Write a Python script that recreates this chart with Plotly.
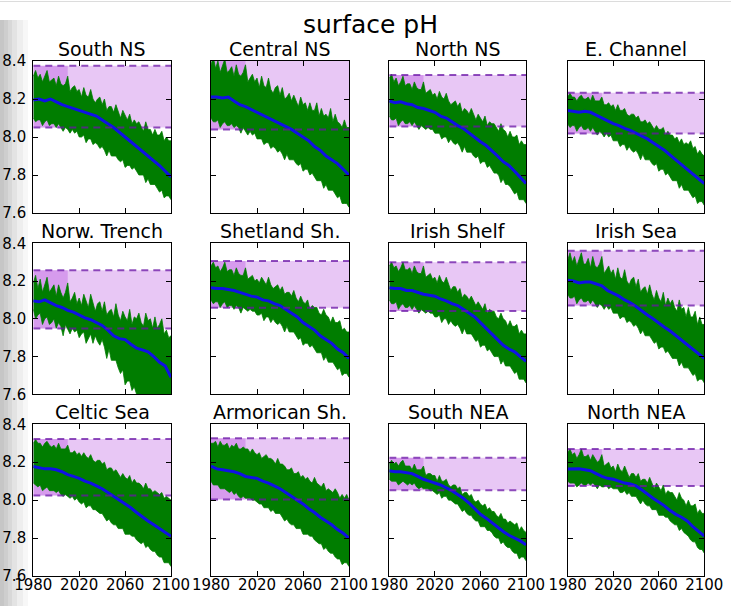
import plotly.graph_objects as go

# ---------------- data ----------------
regions = ["South NS", "Central NS", "North NS", "E. Channel",
           "Norw. Trench", "Shetland Sh.", "Irish Shelf", "Irish Sea",
           "Celtic Sea", "Armorican Sh.", "South NEA", "North NEA"]

# present-day variability range (dashed lines)
band_lo = [8.05, 8.04, 8.055, 8.019, 7.948, 8.059, 8.041, 8.07, 8.024, 8.004, 8.052, 8.075]
band_hi = [8.375, 8.46, 8.326, 8.233, 8.257, 8.306, 8.30, 8.36, 8.323, 8.326, 8.224, 8.27]
baseline_period = [1980, 2010]
x_range = [1980, 2100]

years_env = list(range(1980, 2101, 2))
years_mean = list(range(1980, 2101, 5))

south_ns_hi = [8.32, 8.35, 8.31, 8.33, 8.29, 8.32, 8.35, 8.29, 8.30, 8.31, 8.27, 8.32, 8.28, 8.27, 8.28,
               8.32, 8.24, 8.26, 8.27, 8.24, 8.25, 8.21, 8.26, 8.22, 8.21, 8.25, 8.20, 8.18, 8.20, 8.21,
               8.17, 8.20, 8.14, 8.16, 8.16, 8.13, 8.17, 8.13, 8.10, 8.14, 8.11, 8.09, 8.12, 8.07, 8.09,
               8.07, 8.08, 8.05, 8.03, 8.08, 8.04, 8.04, 8.01, 8.04, 8.01, 8.01, 8.03, 7.98, 8.00, 7.98, 7.98]
south_ns_lo = [8.10, 8.08, 8.09, 8.09, 8.06, 8.08, 8.09, 8.06, 8.07, 8.07, 8.05, 8.07, 8.05, 8.03, 8.05,
               8.04, 8.02, 8.04, 8.02, 8.03, 8.00, 8.00, 8.01, 7.97, 7.99, 7.99, 7.96, 7.97, 7.96, 7.94,
               7.95, 7.93, 7.90, 7.93, 7.90, 7.90, 7.90, 7.88, 7.87, 7.88, 7.84, 7.85, 7.85, 7.83, 7.84,
               7.82, 7.80, 7.80, 7.80, 7.76, 7.78, 7.75, 7.75, 7.75, 7.73, 7.71, 7.72, 7.68, 7.69, 7.69, 7.67]
south_ns_mean = [8.195, 8.20, 8.19, 8.20, 8.185, 8.17, 8.16, 8.15, 8.14, 8.13, 8.12, 8.11, 8.09,
                 8.07, 8.05, 8.025, 8.00, 7.975, 7.95, 7.93, 7.90, 7.88, 7.85, 7.82, 7.79]

central_ns_hi = [8.38, 8.42, 8.36, 8.40, 8.34, 8.38, 8.41, 8.34, 8.35, 8.37, 8.32, 8.38, 8.33, 8.32, 8.34,
                 8.38, 8.29, 8.31, 8.33, 8.29, 8.31, 8.26, 8.32, 8.27, 8.26, 8.31, 8.25, 8.23, 8.26, 8.27,
                 8.22, 8.26, 8.20, 8.21, 8.23, 8.19, 8.22, 8.19, 8.16, 8.21, 8.17, 8.18, 8.14, 8.18, 8.14,
                 8.14, 8.18, 8.11, 8.15, 8.11, 8.12, 8.10, 8.15, 8.08, 8.12, 8.08, 8.07, 8.05, 8.09, 8.05, 8.05]
central_ns_lo = [8.10, 8.08, 8.08, 8.09, 8.05, 8.07, 8.08, 8.06, 8.06, 8.07, 8.05, 8.06, 8.05, 8.02, 8.05,
                 8.03, 8.01, 8.03, 8.01, 8.02, 7.99, 7.99, 7.99, 7.96, 7.97, 7.97, 7.94, 7.95, 7.94, 7.92,
                 7.93, 7.91, 7.88, 7.91, 7.88, 7.88, 7.88, 7.86, 7.85, 7.86, 7.82, 7.83, 7.83, 7.80, 7.81,
                 7.79, 7.77, 7.77, 7.77, 7.73, 7.75, 7.72, 7.72, 7.72, 7.70, 7.68, 7.69, 7.65, 7.65, 7.65, 7.63]
central_ns_mean = [8.21, 8.21, 8.205, 8.21, 8.19, 8.17, 8.16, 8.145, 8.13, 8.115, 8.10, 8.085, 8.07,
                   8.055, 8.04, 8.02, 8.00, 7.98, 7.95, 7.93, 7.90, 7.88, 7.86, 7.83, 7.80]

north_ns_hi = [8.31, 8.33, 8.29, 8.31, 8.27, 8.29, 8.32, 8.27, 8.28, 8.28, 8.25, 8.29, 8.26, 8.25, 8.25,
               8.29, 8.23, 8.24, 8.25, 8.22, 8.23, 8.20, 8.24, 8.21, 8.20, 8.23, 8.19, 8.17, 8.18, 8.19,
               8.16, 8.18, 8.13, 8.15, 8.14, 8.12, 8.15, 8.12, 8.09, 8.12, 8.10, 8.08, 8.11, 8.06, 8.08,
               8.07, 8.07, 8.05, 8.03, 8.07, 8.04, 8.03, 8.00, 8.03, 8.00, 8.00, 8.01, 7.96, 7.98, 7.96, 7.96]
north_ns_lo = [8.11, 8.09, 8.09, 8.10, 8.06, 8.08, 8.09, 8.07, 8.07, 8.08, 8.06, 8.08, 8.06, 8.04, 8.06,
               8.05, 8.04, 8.05, 8.04, 8.04, 8.02, 8.02, 8.02, 7.99, 8.00, 8.00, 7.97, 7.99, 7.97, 7.96,
               7.97, 7.95, 7.92, 7.95, 7.92, 7.92, 7.92, 7.90, 7.89, 7.90, 7.86, 7.87, 7.87, 7.84, 7.85,
               7.83, 7.81, 7.81, 7.80, 7.76, 7.78, 7.75, 7.75, 7.74, 7.72, 7.70, 7.71, 7.67, 7.67, 7.67, 7.65]
north_ns_mean = [8.19, 8.18, 8.185, 8.175, 8.17, 8.155, 8.15, 8.14, 8.13, 8.11, 8.10, 8.08, 8.06,
                 8.045, 8.02, 8.00, 7.975, 7.955, 7.93, 7.90, 7.87, 7.85, 7.82, 7.79, 7.755]

e_channel_hi = [8.21, 8.23, 8.21, 8.21, 8.19, 8.21, 8.22, 8.20, 8.20, 8.21, 8.19, 8.22, 8.19, 8.19, 8.19,
                8.21, 8.17, 8.17, 8.18, 8.16, 8.17, 8.14, 8.17, 8.14, 8.14, 8.15, 8.12, 8.11, 8.12, 8.12,
                8.10, 8.11, 8.08, 8.08, 8.09, 8.07, 8.08, 8.06, 8.04, 8.06, 8.04, 8.04, 8.05, 8.01, 8.03,
                8.01, 8.01, 7.99, 8.00, 7.97, 7.99, 7.96, 7.97, 7.96, 7.98, 7.94, 7.95, 7.91, 7.93, 7.91, 7.90]
e_channel_lo = [8.07, 8.05, 8.06, 8.06, 8.03, 8.05, 8.06, 8.04, 8.04, 8.05, 8.03, 8.05, 8.03, 8.01, 8.03,
                8.02, 8.00, 8.02, 8.00, 8.01, 7.98, 7.98, 7.98, 7.95, 7.96, 7.96, 7.93, 7.95, 7.93, 7.92,
                7.93, 7.91, 7.88, 7.91, 7.88, 7.88, 7.88, 7.86, 7.85, 7.86, 7.82, 7.83, 7.83, 7.80, 7.81,
                7.79, 7.77, 7.77, 7.77, 7.73, 7.75, 7.72, 7.72, 7.72, 7.70, 7.68, 7.69, 7.65, 7.66, 7.66, 7.64]
e_channel_mean = [8.14, 8.135, 8.13, 8.135, 8.13, 8.115, 8.10, 8.085, 8.07, 8.06, 8.045, 8.035, 8.02,
                  8.005, 7.99, 7.97, 7.95, 7.93, 7.905, 7.88, 7.86, 7.835, 7.81, 7.785, 7.755]

norw_trench_hi = [8.19, 8.23, 8.16, 8.21, 8.14, 8.18, 8.22, 8.14, 8.16, 8.18, 8.12, 8.18, 8.14, 8.11, 8.14,
                  8.19, 8.09, 8.11, 8.14, 8.08, 8.11, 8.07, 8.13, 8.09, 8.06, 8.13, 8.08, 8.04, 8.08, 8.09,
                  8.04, 8.09, 8.02, 8.04, 8.05, 8.01, 8.08, 8.02, 7.99, 8.04, 8.01, 7.99, 8.05, 7.97, 8.01,
                  8.00, 8.03, 7.98, 7.96, 8.03, 7.99, 8.00, 7.95, 8.01, 7.95, 7.97, 8.00, 7.92, 7.94, 7.90, 7.91]
norw_trench_lo = [8.05, 8.00, 8.02, 8.03, 7.97, 8.00, 8.01, 7.97, 7.98, 8.00, 7.95, 7.98, 7.96, 7.91, 7.97,
                  7.94, 7.92, 7.95, 7.93, 7.94, 7.90, 7.92, 7.93, 7.87, 7.90, 7.92, 7.87, 7.91, 7.88, 7.86,
                  7.89, 7.85, 7.79, 7.84, 7.78, 7.78, 7.78, 7.74, 7.71, 7.73, 7.65, 7.67, 7.67, 7.62, 7.64,
                  7.60, 7.57, 7.58, 7.59, 7.52, 7.57, 7.53, 7.54, 7.52, 7.53, 7.51, 7.55, 7.48, 7.52, 7.53, 7.51]
norw_trench_mean = [8.095, 8.09, 8.10, 8.085, 8.07, 8.06, 8.045, 8.035, 8.02, 8.005, 7.995, 7.98, 7.965,
                    7.94, 7.91, 7.895, 7.89, 7.865, 7.845, 7.835, 7.825, 7.80, 7.77, 7.75, 7.69]

shetland_hi = [8.28, 8.30, 8.27, 8.28, 8.25, 8.27, 8.30, 8.25, 8.26, 8.26, 8.23, 8.27, 8.24, 8.23, 8.23,
               8.27, 8.21, 8.22, 8.23, 8.20, 8.21, 8.19, 8.22, 8.20, 8.18, 8.22, 8.18, 8.16, 8.17, 8.18,
               8.15, 8.17, 8.13, 8.14, 8.14, 8.12, 8.15, 8.11, 8.09, 8.12, 8.09, 8.08, 8.10, 8.05, 8.07,
               8.06, 8.06, 8.03, 8.02, 8.05, 8.02, 8.01, 7.98, 8.01, 7.98, 7.98, 7.99, 7.94, 7.95, 7.93, 7.93]
shetland_lo = [8.10, 8.08, 8.09, 8.09, 8.06, 8.08, 8.09, 8.06, 8.07, 8.07, 8.05, 8.07, 8.06, 8.03, 8.06,
               8.05, 8.04, 8.05, 8.04, 8.04, 8.02, 8.02, 8.03, 7.99, 8.01, 8.01, 7.98, 8.00, 7.98, 7.97,
               7.98, 7.96, 7.93, 7.96, 7.93, 7.93, 7.93, 7.91, 7.89, 7.90, 7.86, 7.87, 7.87, 7.85, 7.86,
               7.84, 7.82, 7.82, 7.82, 7.78, 7.80, 7.77, 7.77, 7.77, 7.75, 7.73, 7.74, 7.70, 7.71, 7.71, 7.69]
shetland_mean = [8.165, 8.16, 8.16, 8.155, 8.15, 8.14, 8.13, 8.12, 8.115, 8.10, 8.095, 8.08, 8.07,
                 8.05, 8.03, 8.01, 7.98, 7.96, 7.94, 7.91, 7.89, 7.87, 7.84, 7.82, 7.79]

irish_shelf_hi = [8.28, 8.30, 8.27, 8.28, 8.25, 8.27, 8.30, 8.26, 8.26, 8.27, 8.24, 8.28, 8.25, 8.24, 8.24,
                  8.28, 8.22, 8.23, 8.24, 8.21, 8.22, 8.19, 8.23, 8.20, 8.19, 8.22, 8.18, 8.15, 8.17, 8.17,
                  8.14, 8.16, 8.11, 8.13, 8.12, 8.10, 8.12, 8.09, 8.07, 8.09, 8.07, 8.05, 8.08, 8.03, 8.05,
                  8.04, 8.04, 8.01, 8.00, 8.03, 8.00, 7.99, 7.96, 7.99, 7.96, 7.96, 7.97, 7.92, 7.94, 7.92, 7.92]
irish_shelf_lo = [8.10, 8.08, 8.08, 8.09, 8.05, 8.07, 8.08, 8.06, 8.06, 8.07, 8.05, 8.07, 8.05, 8.03, 8.05,
                  8.04, 8.03, 8.04, 8.03, 8.03, 8.01, 8.01, 8.02, 7.98, 8.00, 8.00, 7.97, 7.99, 7.97, 7.96,
                  7.97, 7.95, 7.92, 7.95, 7.92, 7.92, 7.92, 7.90, 7.88, 7.89, 7.85, 7.86, 7.86, 7.83, 7.84,
                  7.82, 7.80, 7.80, 7.80, 7.76, 7.78, 7.75, 7.75, 7.75, 7.73, 7.71, 7.72, 7.68, 7.68, 7.68, 7.66]
irish_shelf_mean = [8.165, 8.16, 8.16, 8.15, 8.15, 8.14, 8.13, 8.125, 8.12, 8.105, 8.095, 8.08, 8.07,
                    8.05, 8.03, 8.01, 7.98, 7.95, 7.92, 7.89, 7.86, 7.84, 7.825, 7.80, 7.775]

irish_sea_hi = [8.31, 8.35, 8.30, 8.33, 8.28, 8.32, 8.35, 8.29, 8.29, 8.32, 8.27, 8.33, 8.28, 8.27, 8.29,
                8.33, 8.24, 8.26, 8.28, 8.24, 8.26, 8.21, 8.27, 8.22, 8.21, 8.26, 8.20, 8.18, 8.21, 8.22,
                8.17, 8.21, 8.14, 8.16, 8.17, 8.13, 8.18, 8.13, 8.10, 8.15, 8.11, 8.09, 8.14, 8.07, 8.11,
                8.08, 8.10, 8.06, 8.04, 8.10, 8.05, 8.06, 8.01, 8.06, 8.01, 8.01, 8.04, 7.97, 8.01, 7.97, 7.97]
irish_sea_lo = [8.13, 8.11, 8.11, 8.12, 8.08, 8.10, 8.11, 8.09, 8.09, 8.10, 8.08, 8.10, 8.08, 8.06, 8.08,
                8.07, 8.05, 8.07, 8.05, 8.06, 8.03, 8.03, 8.03, 8.00, 8.01, 8.01, 7.98, 7.99, 7.98, 7.96,
                7.97, 7.95, 7.92, 7.94, 7.91, 7.91, 7.91, 7.89, 7.87, 7.88, 7.84, 7.85, 7.85, 7.82, 7.83,
                7.81, 7.79, 7.79, 7.79, 7.75, 7.77, 7.74, 7.74, 7.74, 7.72, 7.70, 7.71, 7.67, 7.68, 7.68, 7.66]
irish_sea_mean = [8.205, 8.20, 8.19, 8.195, 8.195, 8.185, 8.175, 8.15, 8.135, 8.12, 8.10, 8.085, 8.065,
                  8.04, 8.02, 8.00, 7.975, 7.955, 7.935, 7.91, 7.89, 7.865, 7.84, 7.815, 7.79]

celtic_hi = [8.30, 8.32, 8.30, 8.30, 8.28, 8.30, 8.31, 8.29, 8.28, 8.29, 8.27, 8.30, 8.27, 8.27, 8.27,
             8.29, 8.25, 8.25, 8.26, 8.24, 8.25, 8.23, 8.25, 8.23, 8.22, 8.24, 8.21, 8.20, 8.21, 8.21,
             8.19, 8.20, 8.16, 8.17, 8.17, 8.15, 8.16, 8.14, 8.12, 8.14, 8.12, 8.11, 8.13, 8.09, 8.11,
             8.09, 8.09, 8.08, 8.06, 8.09, 8.06, 8.06, 8.04, 8.05, 8.04, 8.03, 8.04, 8.01, 8.02, 8.01, 8.00]
celtic_lo = [8.09, 8.08, 8.07, 8.08, 8.05, 8.06, 8.07, 8.05, 8.05, 8.05, 8.04, 8.05, 8.03, 8.02, 8.03,
             8.02, 8.01, 8.02, 8.00, 8.01, 7.99, 7.98, 7.99, 7.96, 7.97, 7.97, 7.95, 7.95, 7.94, 7.93,
             7.93, 7.91, 7.89, 7.90, 7.88, 7.87, 7.87, 7.85, 7.85, 7.85, 7.82, 7.82, 7.82, 7.81, 7.81,
             7.79, 7.78, 7.77, 7.78, 7.75, 7.76, 7.74, 7.73, 7.73, 7.71, 7.70, 7.70, 7.67, 7.67, 7.67, 7.65]
celtic_mean = [8.177, 8.17, 8.165, 8.165, 8.16, 8.15, 8.135, 8.125, 8.115, 8.10, 8.09, 8.075, 8.06,
               8.04, 8.02, 8.00, 7.98, 7.96, 7.935, 7.91, 7.89, 7.87, 7.85, 7.83, 7.81]

armorican_hi = [8.30, 8.30, 8.31, 8.28, 8.31, 8.29, 8.29, 8.30, 8.27, 8.29, 8.28, 8.30, 8.27, 8.27, 8.28,
                8.27, 8.27, 8.25, 8.27, 8.25, 8.24, 8.25, 8.22, 8.23, 8.24, 8.22, 8.22, 8.21, 8.19, 8.22,
                8.19, 8.19, 8.18, 8.16, 8.16, 8.17, 8.14, 8.14, 8.15, 8.12, 8.13, 8.11, 8.12, 8.10, 8.09,
                8.12, 8.09, 8.08, 8.07, 8.09, 8.05, 8.06, 8.05, 8.04, 8.06, 8.04, 8.01, 8.03, 8.01, 8.03, 8.00]
armorican_lo = [8.10, 8.08, 8.08, 8.08, 8.06, 8.06, 8.06, 8.05, 8.04, 8.05, 8.03, 8.04, 8.02, 8.01, 8.02,
                8.01, 8.01, 8.01, 8.00, 8.00, 7.99, 7.98, 7.98, 7.96, 7.96, 7.96, 7.94, 7.95, 7.93, 7.93,
                7.93, 7.91, 7.89, 7.90, 7.88, 7.87, 7.87, 7.85, 7.85, 7.85, 7.82, 7.82, 7.82, 7.81, 7.81,
                7.79, 7.78, 7.77, 7.77, 7.74, 7.75, 7.73, 7.72, 7.72, 7.70, 7.69, 7.69, 7.66, 7.67, 7.67, 7.65]
armorican_mean = [8.18, 8.165, 8.16, 8.155, 8.15, 8.14, 8.125, 8.12, 8.115, 8.10, 8.09, 8.075, 8.06,
                  8.04, 8.02, 8.00, 7.98, 7.955, 7.935, 7.91, 7.89, 7.87, 7.845, 7.825, 7.80]

south_nea_hi = [8.19, 8.21, 8.19, 8.20, 8.18, 8.20, 8.21, 8.18, 8.18, 8.18, 8.16, 8.19, 8.16, 8.16, 8.16,
                8.18, 8.13, 8.14, 8.14, 8.13, 8.13, 8.10, 8.13, 8.10, 8.10, 8.11, 8.08, 8.07, 8.08, 8.08,
                8.06, 8.07, 8.03, 8.04, 8.04, 8.02, 8.03, 8.00, 7.99, 8.00, 7.98, 7.97, 7.98, 7.95, 7.96,
                7.94, 7.94, 7.92, 7.91, 7.93, 7.90, 7.90, 7.88, 7.89, 7.88, 7.87, 7.88, 7.84, 7.86, 7.84, 7.83]
south_nea_lo = [8.11, 8.10, 8.10, 8.10, 8.08, 8.09, 8.10, 8.09, 8.08, 8.09, 8.08, 8.09, 8.07, 8.06, 8.07,
                8.06, 8.06, 8.06, 8.05, 8.05, 8.04, 8.03, 8.04, 8.01, 8.02, 8.02, 8.00, 8.00, 7.99, 7.98,
                7.98, 7.96, 7.94, 7.95, 7.93, 7.92, 7.92, 7.90, 7.89, 7.89, 7.86, 7.86, 7.86, 7.84, 7.84,
                7.83, 7.81, 7.80, 7.80, 7.77, 7.78, 7.76, 7.75, 7.75, 7.73, 7.72, 7.72, 7.69, 7.70, 7.70, 7.68]
south_nea_mean = [8.155, 8.15, 8.15, 8.145, 8.14, 8.125, 8.11, 8.10, 8.09, 8.08, 8.065, 8.05, 8.03,
                  8.01, 7.985, 7.955, 7.925, 7.905, 7.88, 7.855, 7.835, 7.815, 7.80, 7.785, 7.765]

north_nea_hi = [8.25, 8.27, 8.24, 8.25, 8.22, 8.24, 8.27, 8.23, 8.23, 8.24, 8.21, 8.24, 8.22, 8.20, 8.21,
                8.24, 8.18, 8.19, 8.20, 8.17, 8.18, 8.15, 8.19, 8.16, 8.15, 8.18, 8.15, 8.12, 8.14, 8.14,
                8.12, 8.14, 8.10, 8.11, 8.11, 8.09, 8.12, 8.09, 8.06, 8.09, 8.07, 8.05, 8.08, 8.03, 8.05,
                8.04, 8.04, 8.02, 8.00, 8.04, 8.01, 8.00, 7.97, 8.00, 7.97, 7.97, 7.98, 7.93, 7.95, 7.93, 7.93]
north_nea_lo = [8.10, 8.09, 8.09, 8.09, 8.07, 8.08, 8.09, 8.08, 8.08, 8.09, 8.08, 8.09, 8.08, 8.06, 8.08,
                8.07, 8.07, 8.08, 8.06, 8.07, 8.06, 8.06, 8.06, 8.04, 8.04, 8.05, 8.03, 8.04, 8.02, 8.02,
                8.02, 8.00, 7.98, 8.00, 7.98, 7.97, 7.97, 7.95, 7.95, 7.95, 7.92, 7.92, 7.92, 7.91, 7.91,
                7.89, 7.88, 7.87, 7.87, 7.84, 7.85, 7.83, 7.82, 7.81, 7.79, 7.78, 7.78, 7.75, 7.74, 7.74, 7.72]
north_nea_mean = [8.164, 8.165, 8.165, 8.16, 8.155, 8.14, 8.125, 8.115, 8.11, 8.10, 8.09, 8.085, 8.075,
                  8.055, 8.03, 8.01, 7.99, 7.97, 7.945, 7.925, 7.91, 7.89, 7.86, 7.835, 7.81]

env_hi = [south_ns_hi, central_ns_hi, north_ns_hi, e_channel_hi, norw_trench_hi, shetland_hi,
          irish_shelf_hi, irish_sea_hi, celtic_hi, armorican_hi, south_nea_hi, north_nea_hi]
env_lo = [south_ns_lo, central_ns_lo, north_ns_lo, e_channel_lo, norw_trench_lo, shetland_lo,
          irish_shelf_lo, irish_sea_lo, celtic_lo, armorican_lo, south_nea_lo, north_nea_lo]
env_mean = [south_ns_mean, central_ns_mean, north_ns_mean, e_channel_mean, norw_trench_mean, shetland_mean,
            irish_shelf_mean, irish_sea_mean, celtic_mean, armorican_mean, south_nea_mean, north_nea_mean]

y_ticks = [7.6, 7.8, 8.0, 8.2, 8.4]
x_ticks = [1980, 2020, 2060, 2100]

# ---------------- layout geometry (page pixels) ----------------
W, H = 731, 606
col_px = [(33.3, 171.0), (211.0, 349.0), (389.3, 526.0), (567.7, 704.3)]
row_px = [(61.0, 213.0), (243.3, 394.3), (424.3, 576.0)]


def fx(px):
    return px / W


def fy(py):
    return 1 - py / H


FONT = "DejaVu Sans"
band_fill = "rgba(150,0,210,0.22)"
dash_color = "rgba(105,20,165,0.75)"
green = "#007d00"
blue = "#1010e6"
TICK_SIZE = 15

fig = go.Figure()
layout = dict(width=W, height=H, margin=dict(l=0, r=0, t=0, b=0, autoexpand=False),
              paper_bgcolor="white", plot_bgcolor="white", showlegend=False,
              font=dict(family=FONT, color="black", size=TICK_SIZE))
annotations = []

for i, name in enumerate(regions):
    r, c = divmod(i, 4)
    sfx = "" if i == 0 else str(i + 1)
    xref, yref = "x" + sfx, "y" + sfx
    x0, x1 = col_px[c]
    t, b = row_px[r]
    common = dict(showline=True, linecolor="black", linewidth=1.2, mirror="allticks",
                  ticks="inside", ticklen=5, tickwidth=1, tickcolor="black",
                  showgrid=False, zeroline=False, automargin=False, tickangle=0,
                  tickfont=dict(family=FONT, size=TICK_SIZE, color="black"))
    layout["xaxis" + sfx] = dict(common, domain=[fx(x0), fx(x1)], anchor=yref,
                                 range=x_range, tickvals=x_ticks,
                                 showticklabels=(r == 2), ticklabelstandoff=-5)
    layout["yaxis" + sfx] = dict(common, domain=[fy(b), fy(t)], anchor=xref,
                                 range=[y_ticks[0], y_ticks[-1]], tickvals=y_ticks,
                                 tickformat=".1f",
                                 showticklabels=(c == 0), ticklabelstandoff=3)

    lo, hi = band_lo[i], band_hi[i]
    # full-period variability band
    fig.add_trace(go.Scatter(x=[x_range[0], x_range[1], x_range[1], x_range[0]],
                             y=[lo, lo, hi, hi], fill="toself", fillcolor=band_fill,
                             line=dict(width=0), mode="lines", hoverinfo="skip",
                             xaxis=xref, yaxis=yref))
    # baseline period band
    bp0, bp1 = baseline_period
    fig.add_trace(go.Scatter(x=[bp0, bp1, bp1, bp0], y=[lo, lo, hi, hi],
                             fill="toself", fillcolor=band_fill,
                             line=dict(width=0), mode="lines", hoverinfo="skip",
                             xaxis=xref, yaxis=yref))
    # ensemble envelope
    fig.add_trace(go.Scatter(x=years_env, y=env_lo[i], mode="lines",
                             line=dict(color=green, width=0.8),
                             xaxis=xref, yaxis=yref, hoverinfo="skip"))
    fig.add_trace(go.Scatter(x=years_env, y=env_hi[i], mode="lines",
                             line=dict(color=green, width=0.8),
                             fill="tonexty", fillcolor=green,
                             xaxis=xref, yaxis=yref, hoverinfo="skip"))
    # mean
    fig.add_trace(go.Scatter(x=years_mean, y=env_mean[i], mode="lines",
                             line=dict(color=blue, width=3),
                             xaxis=xref, yaxis=yref))
    # dashed range limits
    for yv in (lo, hi):
        fig.add_trace(go.Scatter(x=x_range, y=[yv, yv], mode="lines",
                                 line=dict(color=dash_color, width=2, dash="7px,5px"),
                                 xaxis=xref, yaxis=yref, hoverinfo="skip"))

    annotations.append(dict(text=name, x=fx((x0 + x1) / 2), y=fy(t - 12),
                            xref="paper", yref="paper", xanchor="center", yanchor="middle",
                            showarrow=False, font=dict(family=FONT, size=19, color="black")))

annotations.append(dict(text="surface pH", x=fx(370), y=fy(24), xref="paper", yref="paper",
                        xanchor="center", yanchor="middle", showarrow=False,
                        font=dict(family=FONT, size=25, color="black")))
layout["annotations"] = annotations

# faint screenshot shadow on the left edge and thin line on top
shapes = []
for xa, xb, col in [(0, 4, "#c6c6c6"), (4, 8, "#cecece"), (8, 12, "#d8d8d8"),
                    (12, 17, "#e3e3e3"), (17, 23, "#eeeeee"), (23, 28, "#f7f7f7")]:
    shapes.append(dict(type="rect", xref="paper", yref="paper", x0=fx(xa), x1=fx(xb),
                       y0=0, y1=fy(20), fillcolor=col, line=dict(width=0), layer="below"))
shapes.append(dict(type="line", xref="paper", yref="paper", x0=0, x1=1, y0=fy(1.5), y1=fy(1.5),
                   line=dict(color="#dcdcdc", width=1), layer="below"))
layout["shapes"] = shapes

fig.update_layout(**layout)
# remove the default page margin so the figure sits at the window's top-left corner
fig.write_html("out.html", config={"displayModeBar": False},
               post_script="document.body.style.margin='0px';")
